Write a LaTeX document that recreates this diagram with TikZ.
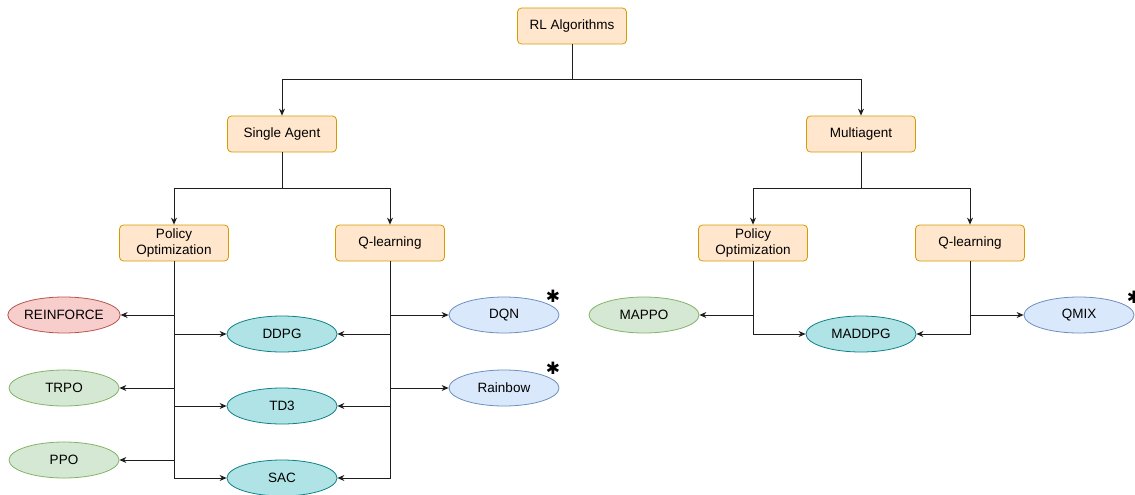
\documentclass[tikz,border=0pt]{standalone}
\usepackage{fontspec}
\setmainfont{Liberation Sans}
\newfontfamily\symfont{DejaVu Sans}
\usepackage{xcolor}
\usepackage{tikz}
\usetikzlibrary{arrows.meta,shapes.geometric}
\definecolor{boxbg}{HTML}{FFE6CC}
\definecolor{boxln}{HTML}{D79B00}
\definecolor{redbg}{HTML}{F8CECC}
\definecolor{redln}{HTML}{B85450}
\definecolor{grnbg}{HTML}{D5E8D4}
\definecolor{grnln}{HTML}{82B366}
\definecolor{tealbg}{HTML}{B0E3E6}
\definecolor{tealln}{HTML}{0E8088}
\definecolor{bluebg}{HTML}{DAE8FC}
\definecolor{blueln}{HTML}{6C8EBF}
\definecolor{wire}{HTML}{1E1E1E}
\tikzset{
  cat/.style={draw=boxln, fill=boxbg, rounded corners=4pt, line width=0.8pt, minimum width=109pt, minimum height=36pt, inner sep=1pt, align=center, font=\fontsize{13.5}{16}\selectfont},
  alg/.style={ellipse, line width=0.8pt, minimum width=110pt, minimum height=36pt, inner sep=0pt, font=\fontsize{13.5}{16}\selectfont},
  reinf/.style={alg, draw=redln, fill=redbg},
  onpol/.style={alg, draw=grnln, fill=grnbg},
  actcr/.style={alg, draw=tealln, fill=tealbg},
  valb/.style={alg, draw=blueln, fill=bluebg},
  link/.style={draw=wire, line width=0.85pt, -{Stealth[length=7pt,width=6pt]}},
  star/.style={font=\symfont\fontsize{17}{17}\selectfont, inner sep=0pt},
}
\begin{document}
\begin{tikzpicture}[x=1pt,y=-1pt]
  \useasboundingbox (0,0) rectangle (1135,495);
  % categories
  \node[cat] (rl) at (572,26) {RL Algorithms};
  \node[cat] (sa) at (282,134) {Single Agent};
  \node[cat] (ma) at (861,134) {Multiagent};
  \node[cat] (spo) at (174,243) {Policy\\Optimization};
  \node[cat] (sq) at (390,243) {Q-learning};
  \node[cat] (mpo) at (753,243) {Policy\\Optimization};
  \node[cat] (mq) at (970,243) {Q-learning};
  % single agent algorithms
  \node[reinf] (reinforce) at (64,315) {REINFORCE};
  \node[onpol] (trpo) at (64,388) {TRPO};
  \node[onpol] (ppo) at (64,460) {PPO};
  \node[actcr] (ddpg) at (282,334) {DDPG};
  \node[actcr] (td3) at (282,406) {TD3};
  \node[actcr] (sac) at (282,478) {SAC};
  \node[valb] (dqn) at (504,315) {DQN};
  \node[valb] (rainbow) at (504,388) {Rainbow};
  % multiagent algorithms
  \node[onpol] (mappo) at (644,315) {MAPPO};
  \node[actcr] (maddpg) at (861,334) {MADDPG};
  \node[valb] (qmix) at (1079,315) {QMIX};
  % marks
  \node[star] (dqnstar) at (553,296) {✱};
  \node[star] (rainbowstar) at (553,368) {✱};
  \node[star] (qmixstar) at (1134,297) {✱};
  % tree
  \draw[link] (rl.south) -- ++(0,35) -| (sa.north);
  \draw[link] (rl.south) -- ++(0,35) -| (ma.north);
  \draw[link] (sa.south) -- ++(0,36) -| (spo.north);
  \draw[link] (sa.south) -- ++(0,36) -| (sq.north);
  \draw[link] (ma.south) -- ++(0,36) -| (mpo.north);
  \draw[link] (ma.south) -- ++(0,36) -| (mq.north);
  % leaves
  \draw[link] (spo.south) |- (reinforce.east);
  \draw[link] (spo.south) |- (trpo.east);
  \draw[link] (spo.south) |- (ppo.east);
  \draw[link] (spo.south) |- (ddpg.west);
  \draw[link] (spo.south) |- (td3.west);
  \draw[link] (spo.south) |- (sac.west);
  \draw[link] (sq.south) |- (dqn.west);
  \draw[link] (sq.south) |- (rainbow.west);
  \draw[link] (sq.south) |- (ddpg.east);
  \draw[link] (sq.south) |- (td3.east);
  \draw[link] (sq.south) |- (sac.east);
  \draw[link] (mpo.south) |- (mappo.east);
  \draw[link] (mpo.south) |- (maddpg.west);
  \draw[link] (mq.south) |- (qmix.west);
  \draw[link] (mq.south) |- (maddpg.east);
\end{tikzpicture}
\end{document}
